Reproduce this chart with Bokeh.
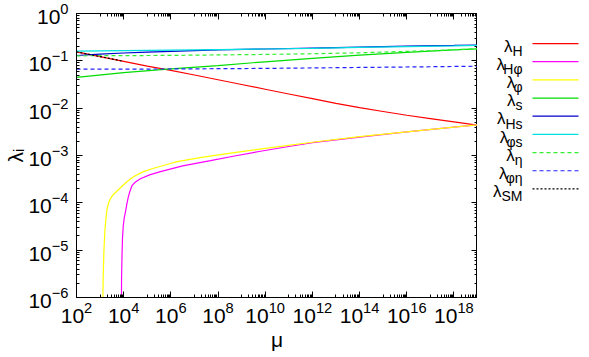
import numpy as np
from bokeh.plotting import figure
from bokeh.models import FixedTicker, LogAxis, Range1d, CustomJSTickFormatter
from bokeh.layouts import row
from bokeh.embed import file_html
from bokeh.resources import INLINE
from bokeh.core.properties import value

# ---------------- data (log10 mu, log10 lambda) ----------------
lm_H = [2, 3, 4, 5, 6, 7, 8, 9, 10, 11, 12, 13, 14, 15, 16, 17, 18, 19]
ll_H = [-0.81, -0.91, -1.01, -1.11, -1.20, -1.30, -1.40, -1.50, -1.60, -1.70,
        -1.80, -1.90, -1.99, -2.07, -2.15, -2.22, -2.29, -2.36]

lm_Hphi = [3.90, 3.91, 3.93, 3.95, 3.98, 4.02, 4.08, 4.13, 4.18, 4.26, 4.36, 4.5,
           4.71, 5.1, 5.56, 6.5, 7.68, 8.7, 9.8, 11, 12, 14, 16, 18, 19]
ll_Hphi = [-7.0, -5.6, -5.1, -4.75, -4.5, -4.33, -4.18, -4.04, -3.91, -3.76, -3.63,
           -3.56, -3.49, -3.41, -3.34, -3.22, -3.11, -3.01, -2.91, -2.81, -2.73,
           -2.61, -2.50, -2.40, -2.35]

lm_phi = [3.11, 3.12, 3.13, 3.16, 3.20, 3.25, 3.30, 3.36, 3.44, 3.55, 3.72,
          3.95, 4.15, 4.45, 4.84, 5.2, 5.98, 6.27, 7.3, 8.39, 10, 12, 14, 16, 18, 19]
ll_phi = [-7.0, -6.0, -5.6, -5.05, -4.61, -4.32, -4.12, -4.0, -3.91, -3.83,
          -3.75, -3.64, -3.55, -3.44, -3.34, -3.28, -3.17, -3.13, -3.04, -2.96, -2.85,
          -2.72, -2.60, -2.50, -2.40, -2.35]

lm_s = [2, 4, 6, 8, 10, 12, 14, 16, 18, 19]
ll_s = [-1.35, -1.25, -1.17, -1.10, -1.02, -0.95, -0.88, -0.82, -0.77, -0.745]

lm_Hs = [2, 3, 4, 5, 6, 7, 8, 10, 12, 14, 16, 18, 19]
ll_Hs = [-0.887, -0.86, -0.835, -0.815, -0.80, -0.785, -0.77, -0.75, -0.73, -0.71,
         -0.69, -0.675, -0.665]

lm_phis = [2, 4, 6, 8, 10, 12, 14, 16, 18, 19]
ll_phis = [-0.797, -0.785, -0.775, -0.765, -0.75, -0.735, -0.715, -0.70, -0.685, -0.675]

lm_eta = [2, 4, 6, 8, 10, 12, 14, 16, 17, 18, 19]
ll_eta = [-0.894, -0.89, -0.885, -0.875, -0.865, -0.85, -0.83, -0.80, -0.785, -0.765, -0.745]

lm_phieta = [2, 6, 10, 14, 17, 19]
ll_phieta = [-1.177, -1.172, -1.16, -1.14, -1.125, -1.113]

lm_SM = [2, 2.5, 3, 3.5, 4]
ll_SM = [-0.81, -0.86, -0.91, -0.96, -1.01]

x_major_exp = [2, 4, 6, 8, 10, 12, 14, 16, 18]
y_major_exp = [-6, -5, -4, -3, -2, -1, 0]

series = [
    ("H",  lm_H,      ll_H,      "#ff0000", "solid"),
    ("Hφ", lm_Hphi,   ll_Hphi,   "#ff00ff", "solid"),
    ("φ",  lm_phi,    ll_phi,    "#ffff00", "solid"),
    ("s",  lm_s,      ll_s,      "#00dd00", "solid"),
    ("Hs", lm_Hs,     ll_Hs,     "#0000cc", "solid"),
    ("φs", lm_phis,   ll_phis,   "#00e0e0", "solid"),
    ("η",  lm_eta,    ll_eta,    "#33ee33", "4 3"),
    ("φη", lm_phieta, ll_phieta, "#2222ff", "4 3"),
    ("SM", lm_SM,     ll_SM,     "#000000", "2 2"),
]

FONT = "Liberation Sans"

# ---------------- main plot ----------------
p = figure(x_axis_type="log", y_axis_type="log",
           x_range=Range1d(1e2, 1e19), y_range=Range1d(1e-6, 1.0),
           frame_width=401, frame_height=284,
           min_border_left=76, min_border_top=13, min_border_right=0, min_border_bottom=0,
           output_backend="svg", toolbar_location=None)
p.grid.visible = False
p.outline_line_color = "black"
p.outline_line_width = 1
p.background_fill_color = "white"
p.border_fill_color = "white"

x_major = [10.0 ** e for e in x_major_exp]
x_minor = [k * 10.0 ** (e - 1) for e in x_major_exp for k in range(1, 10)] + \
          [k * 10.0 ** 18 for k in range(1, 10)]
y_major = [10.0 ** e for e in y_major_exp]
y_minor = [k * 10.0 ** e for e in y_major_exp[:-1] for k in range(2, 10)]

xt = FixedTicker(ticks=x_major, minor_ticks=x_minor)
yt = FixedTicker(ticks=y_major, minor_ticks=y_minor)


def style_axis(ax, ticker, labels=True, standoff=6):
    ax.ticker = ticker
    ax.major_tick_in = 6
    ax.major_tick_out = 0
    ax.minor_tick_in = 3
    ax.minor_tick_out = 0
    ax.axis_line_color = "black"
    ax.major_tick_line_color = "black"
    ax.minor_tick_line_color = "black"
    ax.major_label_text_font = FONT
    ax.major_label_text_color = "black"
    if labels:
        ax.major_label_text_font_size = "21px"
        ax.major_label_standoff = standoff
    else:
        ax.formatter = CustomJSTickFormatter(code="return ''")
        ax.major_label_text_font_size = "1px"
        ax.major_label_standoff = 0


style_axis(p.xaxis[0], xt, standoff=4)
style_axis(p.yaxis[0], yt, standoff=8)
p.xaxis[0].axis_label = "μ"
p.yaxis[0].axis_label = "λᵢ"
for ax in (p.xaxis[0], p.yaxis[0]):
    ax.axis_label_text_font = FONT
    ax.axis_label_text_font_size = "21px"
    ax.axis_label_text_font_style = "normal"
    ax.axis_label_text_color = "black"
p.xaxis[0].axis_label_standoff = 2
p.yaxis[0].axis_label_standoff = -2

top = LogAxis()
right = LogAxis()
style_axis(top, xt, labels=False)
style_axis(right, yt, labels=False)
p.add_layout(top, "above")
p.add_layout(right, "right")

for name, lm, ll, col, dash in series:
    xs = 10.0 ** np.array(lm)
    ys = 10.0 ** np.array(ll)
    p.line(xs, ys, line_color=col, line_width=1.2, line_dash=dash)

# ---------------- legend panel ----------------
LW, LH = 104, 300
leg = figure(width=LW, height=LH, x_range=Range1d(0, LW), y_range=Range1d(LH, 0),
             min_border=0, x_axis_location=None, y_axis_location=None,
             output_backend="svg", toolbar_location=None)
leg.grid.visible = False
leg.outline_line_color = None
leg.background_fill_color = "white"
leg.border_fill_color = "white"

SUB = 14
adv = {"H": 0.722, "φ": 0.52, "s": 0.5, "η": 0.556, "S": 0.667, "M": 0.833}
row0, step = 39.0, 23.6
text_right = 45
for i, (name, lm, ll, col, dash) in enumerate(series):
    yl = row0 + step * i
    leg.line([55, 101], [yl, yl], line_color=col, line_width=1.2, line_dash=dash)
    wsub = sum(adv[c] for c in name) * SUB
    leg.text([text_right], [yl + 9.5], text=[name], text_align="right",
             text_baseline="alphabetic", text_font_size=f"{SUB}px", text_font=value(FONT),
             text_color="black")
    leg.text([text_right - wsub], [yl + 3.5], text=["λ"], text_align="right",
             text_baseline="alphabetic", text_font_size="17px", text_font=value(FONT),
             text_color="black")

layout = row(p, leg)
open("out.html", "w").write(file_html(layout, INLINE))
